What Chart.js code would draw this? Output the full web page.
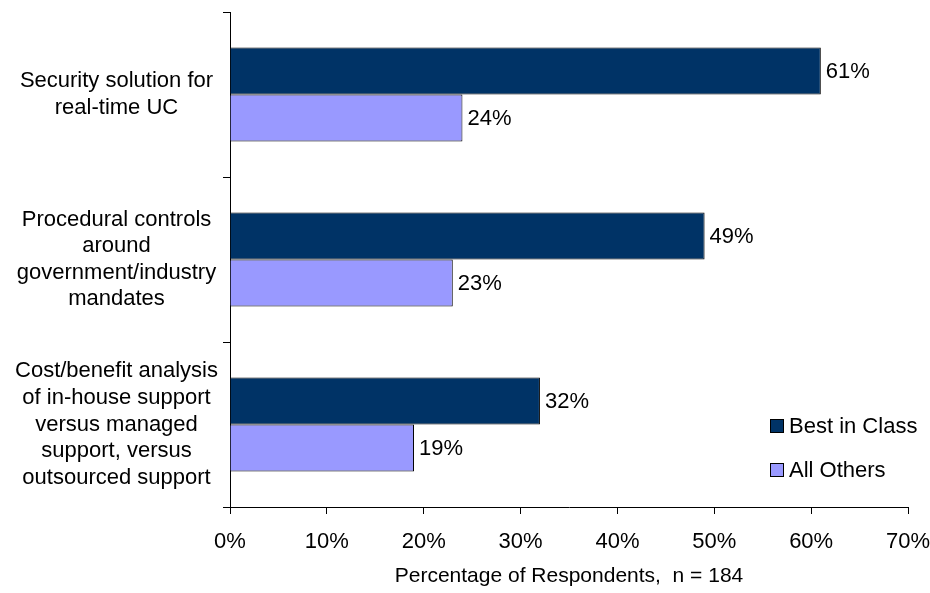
<!DOCTYPE html>
<html>
<head>
<meta charset="utf-8">
<script src="https://cdn.jsdelivr.net/npm/chart.js"></script>
<style>
  html, body { margin: 0; padding: 0; background: #fff; }
  #wrap { width: 930px; height: 593px; }
</style>
</head>
<body>
<div id="wrap"><canvas id="chart"></canvas></div>
<script>
// categories and series
const categories = [
    ['Security solution for', 'real-time UC'],
    ['Procedural controls', 'around', 'government/industry', 'mandates'],
    ['Cost/benefit analysis', 'of in-house support', 'versus managed', 'support, versus', 'outsourced support']
];
const bestInClass = [61, 49, 32];
const allOthers = [24, 23, 19];
const seriesNames = ['Best in Class', 'All Others'];
const axisTitle = 'Percentage of Respondents,  n = 184';

const FONT = 'Liberation Sans, Arial, sans-serif';

// value labels at the end of each bar
const barLabels = {
    id: 'barLabels',
    afterDatasetsDraw(chart) {
        const ctx = chart.ctx;
        ctx.save();
        ctx.font = '22px ' + FONT;
        ctx.fillStyle = '#000';
        ctx.textAlign = 'left';
        ctx.textBaseline = 'middle';
        chart.data.datasets.forEach((ds, i) => {
            chart.getDatasetMeta(i).data.forEach((bar, j) => {
                ctx.fillText(ds.data[j] + '%', bar.x + 5, bar.y + 1);
            });
        });
        ctx.restore();
    }
};

// small legend in the lower right of the plot
const boxLegend = {
    id: 'boxLegend',
    afterDraw(chart) {
        const ctx = chart.ctx;
        const area = chart.chartArea;
        const x = area.right - 138;
        let y = area.bottom - 88;
        ctx.save();
        ctx.font = '22px ' + FONT;
        ctx.textBaseline = 'middle';
        chart.data.datasets.forEach(ds => {
            ctx.fillStyle = ds.backgroundColor;
            ctx.fillRect(x, y, 14, 14);
            ctx.strokeStyle = '#000';
            ctx.lineWidth = 1;
            ctx.strokeRect(x + 0.5, y + 0.5, 13, 13);
            ctx.fillStyle = '#000';
            ctx.fillText(ds.label, x + 19, y + 8);
            y += 44;
        });
        ctx.restore();
    }
};

new Chart(document.getElementById('chart'), {
    type: 'bar',
    data: {
        labels: categories,
        datasets: [
            {
                label: seriesNames[0],
                data: bestInClass,
                backgroundColor: '#003366',
                borderColor: '#000',
                borderWidth: 1
            },
            {
                label: seriesNames[1],
                data: allOthers,
                backgroundColor: '#9999FF',
                borderColor: '#000',
                borderWidth: 1
            }
        ]
    },
    options: {
        indexAxis: 'y',
        responsive: true,
        maintainAspectRatio: false,
        animation: false,
        layout: { padding: { top: 12, right: 22, left: 0, bottom: 0 } },
        datasets: { bar: { barPercentage: 1, categoryPercentage: 0.57 } },
        plugins: {
            legend: { display: false },
            tooltip: { enabled: false }
        },
        scales: {
            x: {
                min: 0,
                max: 70,
                afterFit(scale) {
                    scale.height = 86;
                    scale.paddingLeft = 0;
                    scale.paddingRight = 0;
                },
                border: { color: '#000', width: 1 },
                grid: { drawOnChartArea: false, tickLength: 7, color: '#000' },
                ticks: {
                    stepSize: 10,
                    padding: 15,
                    color: '#000',
                    font: { family: FONT, size: 22 },
                    callback: v => v + '%'
                },
                title: {
                    display: true,
                    text: axisTitle,
                    color: '#000',
                    font: { family: FONT, size: 21 },
                    padding: { top: 0, bottom: 4 }
                }
            },
            y: {
                afterFit(scale) {
                    scale.width = 230;
                    scale.paddingTop = 0;
                    scale.paddingBottom = 0;
                },
                border: { color: '#000', width: 1 },
                grid: { drawOnChartArea: false, tickLength: 7, color: '#000' },
                ticks: {
                    crossAlign: 'center',
                    padding: 5,
                    color: '#000',
                    font: { family: FONT, size: 22, lineHeight: 1.21 }
                }
            }
        }
    },
    plugins: [barLabels, boxLegend]
});
</script>
</body>
</html>
